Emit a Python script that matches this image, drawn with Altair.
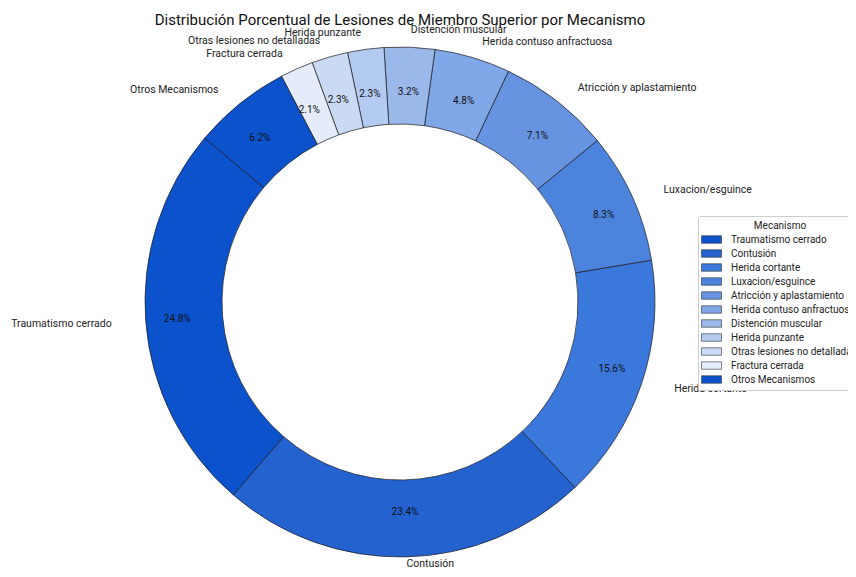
import altair as alt
import pandas as pd

mecanismos = [
    "Traumatismo cerrado",
    "Contusión",
    "Herida cortante",
    "Luxacion/esguince",
    "Atricción y aplastamiento",
    "Herida contuso anfractuosa",
    "Distención muscular",
    "Herida punzante",
    "Otras lesiones no detalladas",
    "Fractura cerrada",
    "Otros Mecanismos",
]
porcentajes = [24.8, 23.4, 15.6, 8.3, 7.1, 4.8, 3.2, 2.3, 2.3, 2.1, 6.2]
colores = [
    "#0b52cc", "#2462d0", "#3b78db", "#4c84dd", "#6694e0", "#80a7e8",
    "#9bb8eb", "#b4cbf1", "#cbdaf4", "#e5ecf9", "#0b52cc",
]

FONT = "Roboto"
START = 140  # start angle (degrees, counter-clockwise from 3 o'clock)

df = pd.DataFrame({"Mecanismo": mecanismos, "valor": porcentajes,
                   "orden": list(range(len(mecanismos)))})

base = (
    alt.Chart(df)
    .transform_window(cum="sum(valor)", sort=[alt.SortField("orden")], frame=[None, 0])
    .transform_joinaggregate(total="sum(valor)")
    .transform_calculate(a0=f"{START} + (datum.cum - datum.valor) / datum.total * 360")
    .transform_calculate(a1=f"{START} + datum.cum / datum.total * 360")
    .transform_calculate(am="(datum.a0 + datum.a1) / 2")
    .transform_calculate(t1="(90 - datum.a1) * PI / 180")
    .transform_calculate(t2="(90 - datum.a0) * PI / 180")
    .transform_calculate(lx="1.1 * cos(datum.am * PI / 180)")
    .transform_calculate(ly="1.1 * sin(datum.am * PI / 180)")
    .transform_calculate(px="0.85 * cos(datum.am * PI / 180)")
    .transform_calculate(py="0.85 * sin(datum.am * PI / 180)")
    .transform_calculate(cx="0")
    .transform_calculate(cy="0")
    .transform_calculate(pct="format(datum.valor, '.1f') + '%'")
)

xscale = alt.Scale(domain=[-1.49049, 1.70342], nice=False, zero=False)
yscale = alt.Scale(domain=[-1.06073, 1.15789], nice=False, zero=False, clamp=True)

legend = alt.Legend(
    orient="none", legendX=690, legendY=200,
    title="Mecanismo", titleAnchor="middle", titleFontSize=10,
    titleFontWeight="normal", titleFont=FONT, titleColor="#222222",
    titlePadding=3,
    labelFont=FONT, labelFontSize=10, labelColor="#222222", labelLimit=300,
    symbolType="M-2,-0.75H2V0.75H-2Z", symbolSize=100, symbolOffset=3,
    symbolStrokeColor="#333333", symbolStrokeWidth=0.6, symbolOpacity=1,
    rowPadding=3, labelOffset=14, padding=5,
    strokeColor="#cccccc", fillColor="white", cornerRadius=2,
)

arcs = base.mark_arc(radius=255, radius2=178, stroke="#1a1a1a", strokeWidth=0.7).encode(
    x=alt.X("cx:Q", scale=xscale, axis=None),
    y=alt.Y("cy:Q", scale=yscale, axis=None),
    theta=alt.Theta("t1:Q", scale=None),
    theta2=alt.Theta2("t2:Q"),
    color=alt.Color("Mecanismo:N", scale=alt.Scale(domain=mecanismos, range=colores),
                    sort=mecanismos, legend=legend),
    tooltip=["Mecanismo:N", "valor:Q"],
)

pcts = base.mark_text(font=FONT, fontSize=10, color="#111111").encode(
    x=alt.X("px:Q", scale=xscale, axis=None),
    y=alt.Y("py:Q", scale=yscale, axis=None),
    text="pct:N",
)

lab_left = base.transform_filter("datum.lx < 0").mark_text(
    font=FONT, fontSize=10.5, color="#222222", align="right", baseline="middle"
).encode(
    x=alt.X("lx:Q", scale=xscale, axis=None),
    y=alt.Y("ly:Q", scale=yscale, axis=None),
    text="Mecanismo:N",
)

lab_right = base.transform_filter("datum.lx >= 0").mark_text(
    font=FONT, fontSize=10.5, color="#222222", align="left", baseline="middle"
).encode(
    x=alt.X("lx:Q", scale=xscale, axis=None),
    y=alt.Y("ly:Q", scale=yscale, axis=None),
    text="Mecanismo:N",
)

chart = (
    alt.layer(arcs, pcts, lab_left, lab_right)
    .properties(
        width=840, height=548,
        title=alt.Title(
            "Distribución Porcentual de Lesiones de Miembro Superior por Mecanismo",
            font=FONT, fontSize=15, fontWeight="normal", color="#111111",
            anchor="middle", dx=-28, offset=-24, baseline="alphabetic", frame="group",
        ),
        autosize=alt.AutoSizeParams(type="none"),
        padding={"left": 0, "right": 0, "top": 8, "bottom": 5},
    )
    .configure_view(stroke=None)
)

chart.save("out.html", embed_options={"renderer": "svg", "actions": False})
